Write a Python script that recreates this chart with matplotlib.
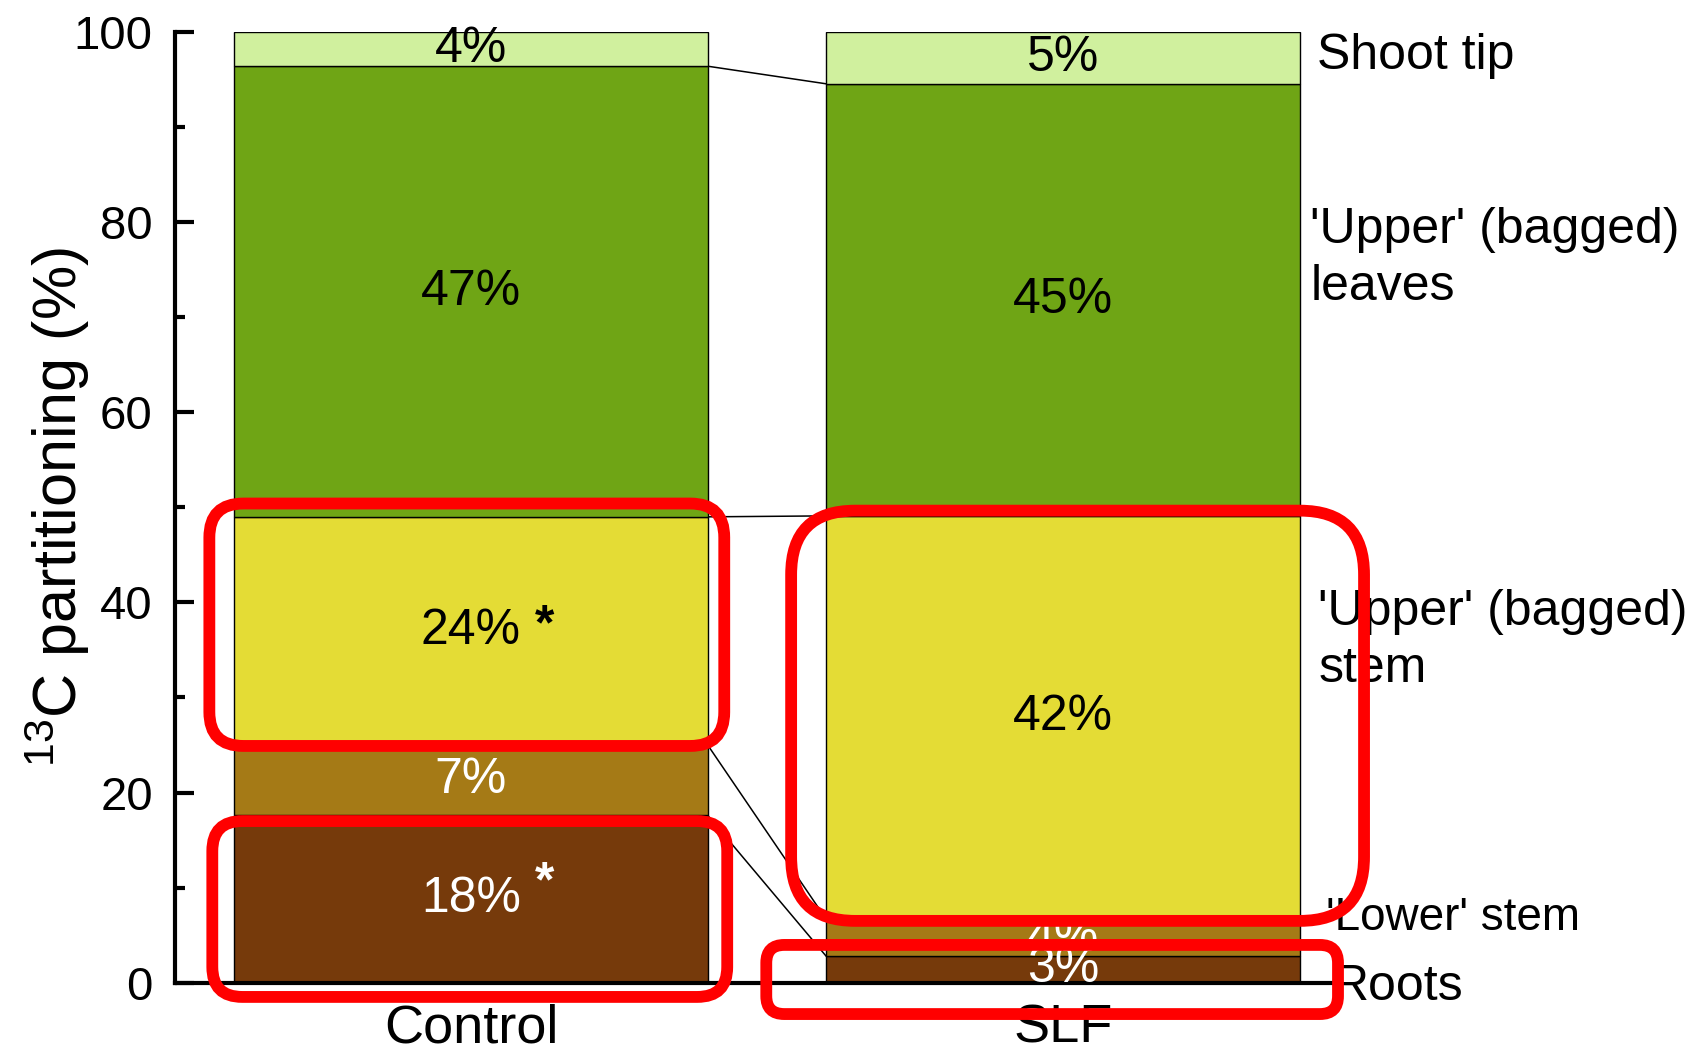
import matplotlib
matplotlib.use("Agg")
import matplotlib.pyplot as plt
from matplotlib.patches import FancyBboxPatch
from matplotlib.transforms import IdentityTransform
import numpy as np

plt.rcParams['font.family'] = ['Liberation Sans', 'DejaVu Sans']
plt.rcParams['mathtext.fontset'] = 'custom'
plt.rcParams['mathtext.rm'] = 'Liberation Sans'
plt.rcParams['mathtext.it'] = 'Liberation Sans:italic'

# 13C partitioning per plant part, bottom to top (%)
treatments = ["Control", "SLF"]
parts = ["Roots", "'Lower' stem", "'Upper' (bagged)\nstem",
         "'Upper' (bagged)\nleaves", "Shoot tip"]
control = [17.6, 7.4, 24.0, 47.4, 3.6]
slf = [2.8, 3.9, 42.4, 45.45, 5.45]
# significant difference between treatments
control_sig = [True, False, True, False, False]
slf_sig = [False, False, False, False, False]

part_colors = ["#763a0b", "#a57a16", "#e4dc35", "#6fa515", "#d0f09e"]
label_colors = ["white", "white", "black", "black", "black"]

fig = plt.figure(figsize=(16.91, 10.52), dpi=100)
ax = fig.add_axes([0.1035, 0.0659, 0.6853, 0.9037])

xpos = np.arange(len(treatments))
width = 0.8
data = np.array([control, slf])
bottoms = np.zeros(len(treatments))

for i, part in enumerate(parts):
    vals = data[:, i]
    ax.bar(xpos, vals, width, bottom=bottoms, color=part_colors[i],
           edgecolor="black", linewidth=1.0, zorder=2)
    for j, v in enumerate(vals):
        ax.text(xpos[j], bottoms[j] + v / 2, f"{v:.0f}%", ha="center",
                va="center", fontsize=36, color=label_colors[i], zorder=4)
    bottoms = bottoms + vals

# asterisks next to the Control values
sig_offsets = {0: 11, 2: 3}
for i, sig in enumerate(control_sig):
    if sig:
        mid = data[0, :i].sum() + data[0, i] / 2
        ax.annotate("*", xy=(xpos[0], mid), xytext=(53, sig_offsets[i]),
                    textcoords="offset points", ha="center", va="center",
                    fontsize=36, fontweight="bold", color=label_colors[i],
                    zorder=4)

# lines joining the segment boundaries of the two bars
tops_c = np.cumsum(control)[:-1]
tops_s = np.cumsum(slf)[:-1]
for yc, ys in zip(tops_c, tops_s):
    ax.plot([xpos[0] + width / 2, xpos[1] - width / 2], [yc, ys],
            color="black", linewidth=1.1, zorder=1)

# part names on the right
name_x = [1.457, 1.445, 1.432, 1.418, 1.430]
name_y = [-0.5, 6.8, 36.0, 76.2, 97.5]
name_size = [36, 33, 36, 36, 36]
for name, x, y, fs in zip(parts, name_x, name_y, name_size):
    ax.text(x, y, name, ha="left", va="center", fontsize=fs,
            linespacing=1.3, zorder=4, clip_on=False)

ax.set_xlim(-0.5, 1.458)
ax.set_ylim(0, 100)
ax.set_xticks(xpos)
ax.set_xticklabels(treatments, fontsize=39)
ax.set_yticks(np.arange(0, 101, 20))
ax.set_yticks(np.arange(0, 101, 10), minor=True)
ax.tick_params(axis="y", which="major", direction="in", length=13.5,
               width=3, labelsize=34, pad=16)
ax.tick_params(axis="y", which="minor", direction="in", length=7, width=3)
ax.tick_params(axis="x", length=0, pad=15)
ax.set_ylabel(r"$^{13}$C partitioning (%)", fontsize=44)
ax.yaxis.set_label_coords(-0.072, 0.5)

for side in ["top", "right"]:
    ax.spines[side].set_visible(False)
for side in ["left", "bottom"]:
    ax.spines[side].set_linewidth(3)

# red highlight frames (data extents, corner radius in pixels)
highlights = [
    (-0.442, 0.428, 24.9, 50.4, 34),
    (-0.437, 0.433, -1.5, 17.0, 30),
    (0.541, 1.509, 6.5, 49.65, 64),
    (0.499, 1.465, -3.3, 3.97, 18),
]
for x0, x1, y0, y1, r in highlights:
    (px0, py0), (px1, py1) = ax.transData.transform([(x0, y0), (x1, y1)])
    box = FancyBboxPatch((px0, py0), px1 - px0, py1 - py0,
                         boxstyle=f"round,pad=0,rounding_size={r}",
                         transform=IdentityTransform(), fill=False,
                         edgecolor="#ff0000", linewidth=8.5, zorder=10)
    fig.add_artist(box)

fig.savefig("out.png", dpi=100)
